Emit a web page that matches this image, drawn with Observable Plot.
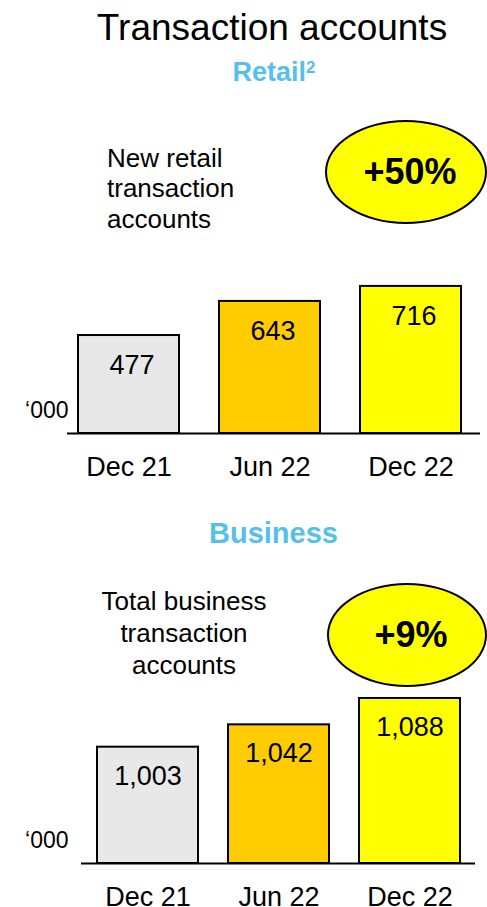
<!DOCTYPE html>
<html><head><meta charset="utf-8">
<script src="https://cdn.jsdelivr.net/npm/d3@7"></script>
<script src="https://cdn.jsdelivr.net/npm/@observablehq/plot@0.6"></script>
<style>
html,body{margin:0;padding:0;background:#fff;}
#root{position:relative;width:487px;height:907px;overflow:hidden;font-family:"Liberation Sans",Arial,sans-serif;color:#000;}
.abs{position:absolute;white-space:nowrap;line-height:1;}
.ctr{transform:translateX(-50%);}
.head{font-weight:bold;color:#56c1e8;}
.ell{position:absolute;box-sizing:border-box;border:2px solid #000;border-radius:50%;background:#ffff00;display:flex;align-items:center;justify-content:center;font-weight:bold;font-size:36px;line-height:1;padding-left:8px;}
.chart{position:absolute;left:0;}
</style></head><body><div id="root"></div>
<script>
const periods = ["Dec 21", "Jun 22", "Dec 22"];
const retailValues = [477, 643, 716];
const businessValues = [1003, 1042, 1088];
const barColors = ["#e8e8e8", "#ffcc00", "#ffff00"];
const retailGrowth = "+50%";
const businessGrowth = "+9%";
const unitLabel = "\u2018000";
const titleText = "Transaction accounts";
const retailHead = "Retail";
const businessHead = "Business";
const retailNote = ["New retail", "transaction", "accounts"];
const businessNote = ["Total business", "transaction", "accounts"];

const root = document.getElementById("root");
function el(html, css, cls) {
  const d = document.createElement("div");
  d.className = cls || "abs";
  d.innerHTML = html;
  Object.assign(d.style, css);
  root.appendChild(d);
  return d;
}

el(titleText, {left: "272px", top: "8.7px", fontSize: "37px"}, "abs ctr");
el(retailHead + '<span style="font-size:17px;vertical-align:top;position:relative;top:0px">2</span>', {left: "274px", top: "59px", fontSize: "27px"}, "abs ctr head");
el(businessHead, {left: "273.5px", top: "518.5px", fontSize: "29px"}, "abs ctr head");
el(retailNote.join("<br>"), {left: "107px", top: "142.7px", fontSize: "26px", lineHeight: "30.5px"});
el(businessNote.join("<br>"), {left: "184px", top: "585px", fontSize: "26px", lineHeight: "32px", textAlign: "center"}, "abs ctr");
el(retailGrowth, {left: "325px", top: "120px", width: "162px", height: "104px"}, "ell");
el(businessGrowth, {left: "327px", top: "583px", width: "160px", height: "104px"}, "ell");

function chart(o) {
  const data = periods.map((p, i) => ({period: p, value: o.values[i]}));
  const fmt = d3.format(",");
  return Plot.plot({
    width: 487, height: o.height,
    marginLeft: o.marginLeft, marginRight: o.marginRight,
    marginTop: 0, marginBottom: o.height - o.yRange[0],
    x: {domain: periods, range: o.xRange, paddingInner: o.padding, paddingOuter: 0, label: null},
    y: {domain: o.yDomain, range: o.yRange, axis: null},
    color: {domain: periods, range: barColors},
    style: {fontFamily: '"Liberation Sans", Arial, sans-serif', fontSize: "27px", overflow: "visible", background: "transparent", color: "#000"},
    marks: [
      Plot.barY(data, {x: "period", y1: o.yDomain[0], y2: "value", fill: "period", stroke: "#000", strokeWidth: 2}),
      Plot.ruleY([o.yDomain[0]], {stroke: "#000", strokeWidth: 2}),
      Plot.text(data, {x: "period", y: "value", text: d => fmt(d.value), lineAnchor: "top", dy: o.labelDy, dx: o.labelDx, fontSize: 27, fill: "#000"}),
      Plot.axisX({tickSize: 0, tickPadding: o.tickPadding, fontSize: 27, fill: "#000"}),
      Plot.text([unitLabel], {frameAnchor: "bottom-left", textAnchor: "end", lineAnchor: "top", dx: o.unitDx, dy: -32.3, fontSize: 23, fill: "#000"})
    ]
  });
}

const retailChart = chart({
  values: retailValues, height: 250, marginLeft: 67, marginRight: 7,
  xRange: [77, 461], padding: 0.284,
  yDomain: [0, 800], yRange: [193, 193 - 800 * 0.2054],
  labelDy: 19.8, labelDx: 3, unitDx: 1, tickPadding: 23
});
retailChart.classList.add("chart");
retailChart.style.top = "240px";
root.appendChild(retailChart);

const businessChart = chart({
  values: businessValues, height: 227, marginLeft: 81, marginRight: 12,
  xRange: [96, 460], padding: 0.232,
  yDomain: [800, 1100], yRange: [183, 183 - 300 * 0.573],
  labelDy: 18.3, labelDx: 0, unitDx: -13, tickPadding: 23.3
});
businessChart.classList.add("chart");
businessChart.style.top = "680px";
root.appendChild(businessChart);
</script>
</body></html>
